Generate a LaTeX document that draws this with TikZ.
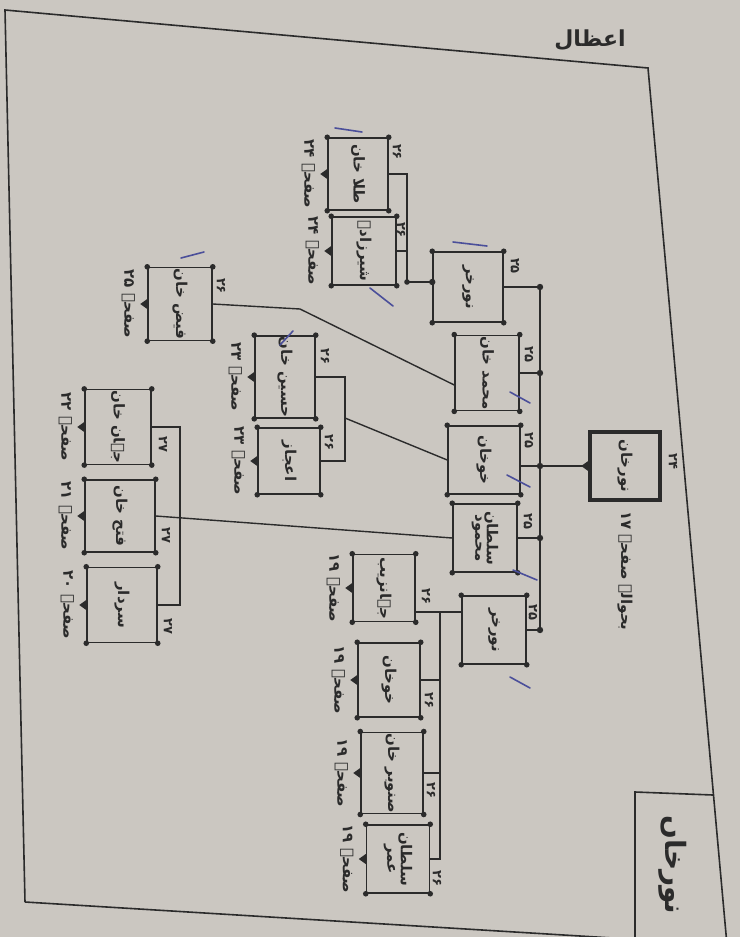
\documentclass[tikz,border=0pt]{standalone}
\usepackage{fontspec}
\usepackage{graphicx}
\usetikzlibrary{positioning, calc}
\newfontfamily\urdufont[Script=Arabic]{DejaVu Sans}
\TeXXeTstate=1
\definecolor{paper}{HTML}{CBC7C1}
\definecolor{ink}{HTML}{2B2B2B}
\definecolor{penblue}{HTML}{4B4F9A}
\newcommand{\ur}[1]{{\urdufont\beginR #1\endR}}
\newcommand{\vtext}[1]{\rotatebox{-90}{\ur{#1}}}
\newcommand{\vtexttwo}[2]{\rotatebox{-90}{\shortstack{\ur{#1}\\\ur{#2}}}}

\tikzset{
  person/.style={draw=ink, line width=1.5pt, minimum width=64pt, minimum height=68pt,
                 inner sep=1pt, text=ink, font=\fontsize{15}{17}\selectfont\bfseries},
  rootbox/.style={person, line width=3.6pt, minimum width=70pt, minimum height=68pt},
  pageref/.style={text=ink, inner sep=1pt, font=\fontsize{15}{17}\selectfont\bfseries},
  gennum/.style={text=ink, inner sep=0pt, font=\fontsize{13}{15}\selectfont\bfseries},
  link/.style={draw=ink, line width=1.4pt},
  junction/.style={fill=ink},
  penmark/.style={draw=penblue, line width=1.6pt, line cap=round},
}

\begin{document}
\begin{tikzpicture}[x=1pt, y=-1pt]
    \useasboundingbox (0,0) rectangle (740,937);
    \fill[paper] (0,0) rectangle (740,937);
    \clip (0,0) rectangle (740,937);

    % page frame and title
    \draw[ink, line width=1.6pt] (25,902) -- (5,10) -- (648,68) -- (727,945);
    \draw[ink, line width=1.6pt] (25,902) -- (727,945);
    \draw[ink, line width=1.6pt] (635,945) -- (635,792) -- (713,795);
    \node[text=ink, font=\fontsize{22}{24}\selectfont\bfseries] (title) at (590,40) {\ur{اعظال}};
    \node[text=ink, font=\fontsize{28}{30}\selectfont\bfseries] (tag) at (673,865) {\vtext{نورخاں}};

    % root
    \node[rootbox] (nk) at (625,466) {\vtext{نورخان}};
    \node[pageref, below=8pt of nk] (p-nk) {\vtext{بحوالہ صفحہ ۱۷}};

    % children
    \node[person, minimum width=70pt, minimum height=70pt] (c1) at (468,287) {\vtext{نورخر}};
    \node[person] (c2) at (487,373) {\vtext{محمد خان}};
    \node[person, minimum width=72pt] (c3) at (484,460) {\vtext{خوخان}};
    \node[person] (c4) at (485,538) {\vtexttwo{سلطان}{محمود}};
    \node[person] (c5) at (494,630) {\vtext{نورخر}};

    % grandchildren
    \node[person, minimum width=60pt, minimum height=72pt] (g1) at (358,174) {\vtext{طلا خان}};
    \node[person] (g2) at (364,251) {\vtext{شیرزادہ}};
    \node[person] (g3) at (180,304) {\vtext{فیض خان}};
    \node[person, minimum width=60pt, minimum height=66pt] (g4) at (285,377) {\vtext{حسین خان}};
    \node[person, minimum width=62pt, minimum height=66pt] (g5) at (289,461) {\vtext{اعجاز}};

    \node[person, minimum width=66pt, minimum height=70pt] (gg1) at (118,427) {\vtext{جہان خان}};
    \node[person, minimum width=70pt, minimum height=72pt] (gg2) at (120,516) {\vtext{فتح خان}};
    \node[person, minimum width=70pt, minimum height=75pt] (gg3) at (122,605) {\vtext{سردار}};

    \node[person, minimum width=62pt, minimum height=67pt] (h1) at (384,588) {\vtext{جہانزیب}};
    \node[person, minimum width=62pt, minimum height=74pt] (h2) at (389,680) {\vtext{خوخان}};
    \node[person, minimum width=62pt, minimum height=77pt] (h3) at (392,773) {\vtext{صنوبر خان}};
    \node[person, minimum width=63pt, minimum height=68pt] (h4) at (398,859) {\vtexttwo{سلطان}{عمر}};

    % page references
    \node[pageref, left=11pt of g1] (p-g1) {\vtext{صفحہ ۲۴}};
    \node[pageref, left=11pt of g2] (p-g2) {\vtext{صفحہ ۲۴}};
    \node[pageref, left=11pt of g3] (p-g3) {\vtext{صفحہ ۲۵}};
    \node[pageref, left=11pt of g4] (p-g4) {\vtext{صفحہ ۲۳}};
    \node[pageref, left=11pt of g5] (p-g5) {\vtext{صفحہ ۲۳}};
    \node[pageref, left=11pt of gg1] (p-gg1) {\vtext{صفحہ ۲۲}};
    \node[pageref, left=11pt of gg2] (p-gg2) {\vtext{صفحہ ۲۱}};
    \node[pageref, left=11pt of gg3] (p-gg3) {\vtext{صفحہ ۲۰}};
    \node[pageref, left=11pt of h1] (p-h1) {\vtext{صفحہ ۱۹}};
    \node[pageref, left=11pt of h2] (p-h2) {\vtext{صفحہ ۱۹}};
    \node[pageref, left=11pt of h3] (p-h3) {\vtext{صفحہ ۱۹}};
    \node[pageref, left=11pt of h4] (p-h4) {\vtext{صفحہ ۱۹}};

    % generation numbers
    \node[gennum] (n-nk) at (673,461) {\vtext{۲۴}};
    \node[gennum] (n-c1) at (515,266) {\vtext{۲۵}};
    \node[gennum] (n-c2) at (529,354) {\vtext{۲۵}};
    \node[gennum] (n-c3) at (529,440) {\vtext{۲۵}};
    \node[gennum] (n-c4) at (528,521) {\vtext{۲۵}};
    \node[gennum] (n-c5) at (533,612) {\vtext{۲۵}};
    \node[gennum] (n-g1) at (397,152) {\vtext{۲۶}};
    \node[gennum] (n-g2) at (401,230) {\vtext{۲۶}};
    \node[gennum] (n-g3) at (221,286) {\vtext{۲۶}};
    \node[gennum] (n-g4) at (325,356) {\vtext{۲۶}};
    \node[gennum] (n-g5) at (329,442) {\vtext{۲۶}};
    \node[gennum] (n-gg1) at (163,444) {\vtext{۲۷}};
    \node[gennum] (n-gg2) at (166,535) {\vtext{۲۷}};
    \node[gennum] (n-gg3) at (168,626) {\vtext{۲۷}};
    \node[gennum] (n-h1) at (426,596) {\vtext{۲۶}};
    \node[gennum] (n-h2) at (429,700) {\vtext{۲۶}};
    \node[gennum] (n-h3) at (431,790) {\vtext{۲۶}};
    \node[gennum] (n-h4) at (437,878) {\vtext{۲۶}};

    % connectors
    \coordinate (spine) at (540,0);
    \draw[link] (c1.east -| spine) -- (c5.east -| spine);
    \draw[link] (nk.west) -- (nk.west -| spine);
    \draw[link] (c3.east |- nk.west) -- (nk.west -| spine);
    \fill[junction] (nk.west -| spine) circle (3.2pt);
    \foreach \c in {c1,c2,c4,c5} {
      \draw[link] (\c.east) -- (\c.east -| spine);
      \fill[junction] (\c.east -| spine) circle (3.2pt);
    }

    \coordinate (j-top) at (407,282);
    \draw[link] (g1.east) -- (g1.east -| j-top) -- (j-top) -- (j-top -| c1.west);
    \draw[link] (g2.east) -- (g2.east -| j-top);
    \fill[junction] (j-top) circle (2.8pt);
    \fill[junction] (j-top -| c1.west) circle (3.2pt);

    \coordinate (j-bend) at (300,309);
    \draw[link] (g3.east) -- (j-bend) -- ([yshift=-12pt]c2.west);

    \coordinate (j-mid) at (345,418);
    \draw[link] (g4.east) -- (g4.east -| j-mid) -- (g5.east -| j-mid) -- (g5.east);
    \draw[link] (j-mid) -- (c3.west);

    \coordinate (j-left) at (180,0);
    \draw[link] (gg1.east) -- (gg1.east -| j-left) -- (gg3.east -| j-left) -- (gg3.east);
    \draw[link] (gg2.east) -- (c4.west);

    \coordinate (j-low) at (440,612);
    \draw[link] (j-low -| h1.east) -- (j-low -| c5.west);
    \draw[link] (j-low) -- (j-low |- h4.east) -- (h4.east);
    \draw[link] (h2.east) -- (h2.east -| j-low);
    \draw[link] (h3.east) -- (h3.east -| j-low);

    % corner dots and page ticks
    \foreach \n in {c1,c2,c3,c4,c5,g1,g2,g3,g4,g5,gg1,gg2,gg3,h1,h2,h3,h4} {
      \foreach \a in {north east,north west,south east,south west}
        \fill[junction] (\n.\a) circle (2.8pt);
    }
    \foreach \n in {nk,g1,g2,g3,g4,g5,gg1,gg2,gg3,h1,h2,h3,h4}
      \fill[junction] (\n.west) ++(0pt,5pt) -- ++(-7pt,-5pt) -- ++(7pt,-5pt) -- cycle;

    % blue pen marks
    \draw[penmark] (335,128) -- (362,132);
    \draw[penmark] (370,288) -- (393,306);
    \draw[penmark] (181,258) -- (204,252);
    \draw[penmark] (280,345) -- (293,331);
    \draw[penmark] (453,242) -- (487,246);
    \draw[penmark] (510,392) -- (530,403);
    \draw[penmark] (507,475) -- (530,487);
    \draw[penmark] (513,570) -- (537,580);
    \draw[penmark] (510,677) -- (530,688);
\end{tikzpicture}
\end{document}
